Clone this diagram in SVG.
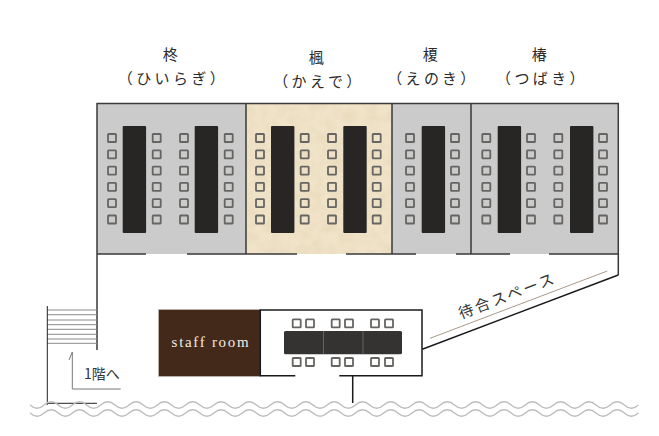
<svg xmlns="http://www.w3.org/2000/svg" width="659" height="436" viewBox="0 0 659 436">
<style>
.room{fill:#cbcbcb}
.wall{stroke:#3a3a3a;stroke-width:1.5;fill:none}
.blk{stroke:#1a1a1a;stroke-width:1.5;fill:none}
.tbl{fill:#272624}
.tbl2{fill:#343331}
.ch{fill:none;stroke:#666562;stroke-width:1.8}
.lab{font-family:"Noto Sans CJK JP",serif;font-size:15px;fill:#2b2b2b;text-anchor:middle;letter-spacing:3.4px}
.wave{fill:none;stroke:#bdbdbd;stroke-width:1.3}
.st{stroke:#8a8a8a;stroke-width:1;fill:none}
</style>
<defs>
<filter id="paper" x="0" y="0" width="100%" height="100%"><feTurbulence type="fractalNoise" baseFrequency=".09" numOctaves="3" seed="4"/><feColorMatrix values="0 0 0 0 .6 0 0 0 0 .46 0 0 0 0 .22 .35 0 0 0 -.12"/><feComposite in2="SourceGraphic" operator="over"/></filter>
<rect id="c" x="-4" y="-4" width="8" height="8" rx=".6"/>
<g id="col"><use href="#c" class="ch" y="138"/><use href="#c" class="ch" y="154.3"/><use href="#c" class="ch" y="170.6"/><use href="#c" class="ch" y="186.9"/><use href="#c" class="ch" y="203.2"/><use href="#c" class="ch" y="219.5"/></g>
<path id="w" d="M30 405 q7.07 6.500 14.15 0 t14.15 0 t14.15 0 t14.15 0 t14.15 0 t14.15 0 t14.15 0 t14.15 0 t14.15 0 t14.15 0 t14.15 0 t14.15 0 t14.15 0 t14.15 0 t14.15 0 t14.15 0 t14.15 0 t14.15 0 t14.15 0 t14.15 0 t14.15 0 t14.15 0 t14.15 0 t14.15 0 t14.15 0 t14.15 0 t14.15 0 t14.15 0 t14.15 0 t14.15 0 t14.15 0 t14.15 0 t14.15 0 t14.15 0 t14.15 0 t14.15 0 t14.15 0 t14.15 0 t14.15 0 t14.15 0 t14.15 0 t14.15 0 t14.15 0"/>
</defs>
<g id="room-hiiragi"><rect class="room" x="97" y="103" width="149" height="151"/>
<rect class="tbl" x="122.7" y="126" width="23.4" height="107" rx="1"/><rect class="tbl" x="194.7" y="126" width="23.4" height="107" rx="1"/>
<use href="#col" x="112"/><use href="#col" x="156.7"/><use href="#col" x="184"/><use href="#col" x="228.7"/>
<text class="lab" x="172" y="60">柊</text><text class="lab" x="173" y="84">（ひいらぎ）</text></g>
<g id="room-kaede"><rect fill="#f0e3c8" filter="url(#paper)" x="246" y="103" width="146" height="151"/>
<rect class="tbl" x="271" y="126" width="23.4" height="107" rx="1"/><rect class="tbl" x="343.3" y="126" width="23.4" height="107" rx="1"/>
<use href="#col" x="260"/><use href="#col" x="304.7"/><use href="#col" x="332"/><use href="#col" x="376.7"/>
<text class="lab" x="318" y="63">楓</text><text class="lab" x="319" y="87">（かえで）</text></g>
<g id="room-enoki"><rect class="room" x="392" y="103" width="79" height="151"/>
<rect class="tbl" x="421.7" y="126" width="23.4" height="107" rx="1"/>
<use href="#col" x="410"/><use href="#col" x="455"/>
<text class="lab" x="432" y="60">榎</text><text class="lab" x="433" y="84">（えのき）</text></g>
<g id="room-tsubaki"><rect class="room" x="471" y="103" width="147.500" height="151"/>
<rect class="tbl" x="497.7" y="126" width="23.4" height="107" rx="1"/><rect class="tbl" x="570" y="126" width="23.4" height="107" rx="1"/>
<use href="#col" x="486.3"/><use href="#col" x="531"/><use href="#col" x="558.3"/><use href="#col" x="603"/>
<text class="lab" x="541" y="60">椿</text><text class="lab" x="542" y="84">（つばき）</text></g>
<g id="connectors">
<path class="wall" d="M97 350V103.500H618.300V275M246 103V254M392 103V254M471 103V254"/>
<path class="wall" d="M97 254H146M187 254H297M346 254H416M456 254H510M549 254H618.500"/>
<path class="blk" d="M618.300 275L422.300 349.300"/>
<path stroke="#a89a8a" stroke-width="1" fill="none" d="M430 338.300L607.300 271"/>
<path class="st" d="M47 310H97M47 314.700H97M47 320H97M47 324.700H97M47 329.300H97M47 334.300H97M47 339H97M47 343.300H97"/>
<path stroke="#222" stroke-width="1" fill="none" d="M47.300 306V405M47 403.300H97"/>
<path stroke="#777" stroke-width="1" fill="none" d="M120.700 389H72.300V352L69 360"/>
<path class="blk" d="M352.700 376V403"/>
</g>
<g id="waves"><use href="#w" class="wave"/><use href="#w" class="wave" y="8"/></g>
<g id="staff-room"><rect x="158.500" y="309.500" width="102" height="67" fill="#43291a" stroke="#c9c2b8" stroke-width=".6"/>
<text x="211" y="347" font-family="Liberation Serif,serif" font-size="15" letter-spacing="1.700" fill="#f2ece3" text-anchor="middle">staff room</text></g>
<g id="meeting-room"><path class="blk" d="M295.300 375.700H260.300V310H422V375.700H339.300"/>
<rect class="tbl2" x="284" y="331" width="118" height="23.300" rx="1.500"/>
<path stroke="#888" stroke-width=".6" d="M323.500 331V354.300M363 331V354.300"/>
<use href="#c" class="ch" x="296.700" y="323.300"/><use href="#c" class="ch" x="310" y="323.300"/><use href="#c" class="ch" x="335.700" y="323.300"/><use href="#c" class="ch" x="349" y="323.300"/><use href="#c" class="ch" x="375" y="323.300"/><use href="#c" class="ch" x="389" y="323.300"/>
<use href="#c" class="ch" x="296.700" y="362"/><use href="#c" class="ch" x="310" y="362"/><use href="#c" class="ch" x="335.700" y="362"/><use href="#c" class="ch" x="349" y="362"/><use href="#c" class="ch" x="375" y="362"/><use href="#c" class="ch" x="389" y="362"/></g>
<text x="84" y="379" font-family="Noto Sans CJK JP,serif" font-size="14" fill="#333">1階へ</text>
<text transform="translate(461 319) rotate(-20.800)" font-family="Noto Sans CJK JP,serif" font-size="15" letter-spacing="2.500" fill="#333">待合スペース</text>
</svg>
